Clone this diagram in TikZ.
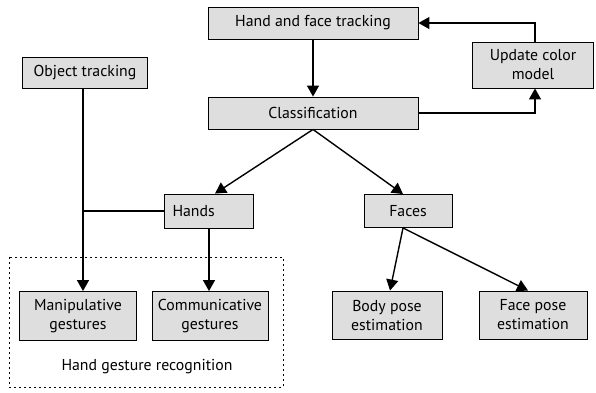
\documentclass[tikz,border=0pt]{standalone}
\usepackage{fontspec}
\setmainfont{PT Sans}
\usetikzlibrary{arrows.meta}
\begin{document}
\begin{tikzpicture}[x=1pt, y=-1pt, >={Triangle[length=11pt,width=12pt]},
  every node/.style={font=\fontsize{15.8}{19}\selectfont},
  box/.style={draw, fill=black!13, line width=0.9pt, inner sep=0pt, align=center},
  link/.style={line width=1.4pt}]
\useasboundingbox (0,0) rectangle (596,392);
\node[box, minimum width=210pt, minimum height=32pt] (track) at (313,23) {Hand and face tracking};
\node[box, minimum width=121pt, minimum height=46pt] (update) at (533,65) {Update color\\model};
\node[box, minimum width=210pt, minimum height=32pt] (classif) at (313,113) {Classification};
\node[box, minimum width=125pt, minimum height=31pt] (object) at (85,73) {Object tracking};
\node[box, text width=73pt, inner xsep=8pt, align=left, minimum height=34pt] (hands) at (209,211) {Hands};
\node[box, minimum width=88pt, minimum height=33pt] (faces) at (408,211) {Faces};
\node[box, minimum width=117pt, minimum height=49pt] (manip) at (78,316) {Manipulative\\gestures};
\node[box, minimum width=116pt, minimum height=49pt] (commu) at (210,316) {Communicative\\gestures};
\node[box, minimum width=110pt, minimum height=48pt] (body) at (387,315) {Body pose\\estimation};
\node[box, minimum width=108pt, minimum height=48pt] (facepose) at (533,315) {Face pose\\estimation};
\node (group) at (147,367) {Hand gesture recognition};
\coordinate (join) at (83,211);
% links
\draw[link,->] (track) -- (classif);
\draw[link,->] (classif.east) -| ([xshift=2pt]update.south);
\draw[link,->] ([xshift=2pt]update.north) |- (track.east);
\draw[link,->] (classif.south) -- ([xshift=6pt]hands.north);
\draw[link,->] (classif.south) -- ([xshift=-5pt]faces.north);
\draw[link,->] ([xshift=-2pt]object.south) -- ([xshift=5pt]manip.north);
\draw[link] (hands.west) -- (join);
\draw[link,->] (hands.south) -- (hands.south |- commu.north);
\draw[link,->] ([xshift=-5pt]faces.south) -- ([xshift=3pt]body.north);
\draw[link,->] ([xshift=-5pt]faces.south) -- ([xshift=-5pt]facepose.north);
\draw[line width=0.8pt, dash pattern=on 2pt off 3pt] (9,257) rectangle (283,387);
\end{tikzpicture}
\end{document}
